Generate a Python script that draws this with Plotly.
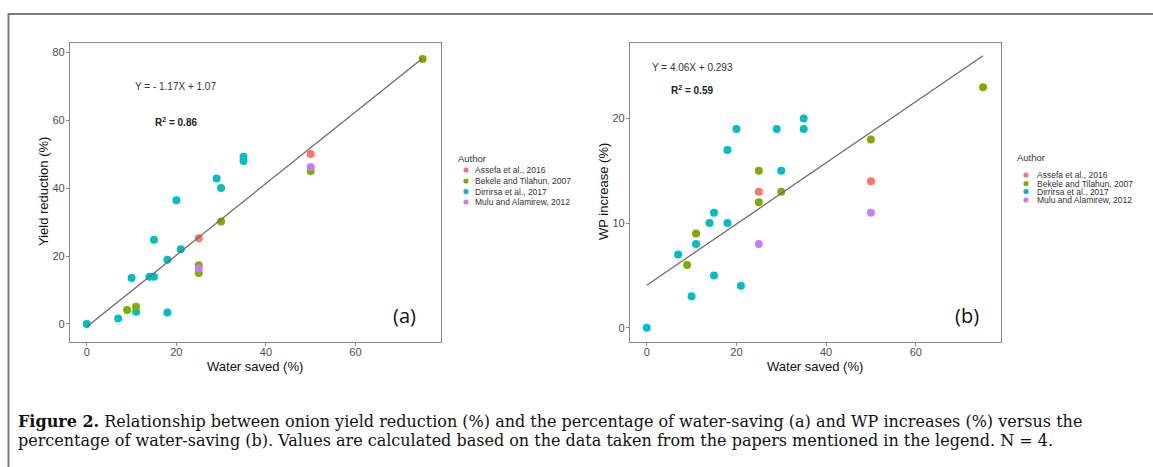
import plotly.graph_objects as go

W, H = 1153, 467

authors = ["Assefa et al., 2016", "Bekele and Tilahun, 2007",
           "Dirrirsa et al., 2017", "Mulu and Alamirew, 2012"]
colors = ["#F8766D", "#7CAE00", "#00BFC4", "#C77CFF"]

# ---- Panel (a): yield reduction vs water saved ----
a_assefa_x = [25, 50]
a_assefa_y = [25.2, 50]
a_bekele_x = [9, 11, 25, 25, 30, 50, 75]
a_bekele_y = [4.1, 5.1, 17.3, 15, 30.2, 45, 78]
a_dirrirsa_x = [0, 7, 10, 11, 14, 15, 15, 18, 18, 20, 21, 29, 30, 35, 35]
a_dirrirsa_y = [0, 1.6, 13.5, 3.6, 13.9, 13.9, 24.8, 18.9, 3.4, 36.4, 22, 42.8, 40, 49.2, 48]
a_mulu_x = [25, 50]
a_mulu_y = [16.3, 46.2]
fit_a_x = [0, 75]
fit_a_y = [-0.8, 78.2]

# ---- Panel (b): WP increase vs water saved ----
b_assefa_x = [25, 50]
b_assefa_y = [13, 14]
b_bekele_x = [9, 11, 25, 25, 30, 50, 75]
b_bekele_y = [6, 9, 15, 12, 13, 18, 23]
b_dirrirsa_x = [0, 7, 10, 11, 14, 15, 15, 18, 18, 20, 21, 29, 30, 35, 35]
b_dirrirsa_y = [0, 7, 3, 8, 10, 11, 5, 10, 17, 19, 4, 19, 15, 20, 19]
b_mulu_x = [25, 50]
b_mulu_y = [8, 11]
fit_b_x = [0, 75]
fit_b_y = [4.06, 26.0]

x_ticks = [0, 20, 40, 60]
a_y_ticks = [0, 20, 40, 60, 80]
b_y_ticks = [0, 10, 20]

caption_1 = ("<b>Figure 2.</b> Relationship between onion yield reduction (%) and the percentage "
             "of water-saving (a) and WP increases (%) versus the")
caption_2 = ("percentage of water-saving (b). Values are calculated based on the data taken from "
             "the papers mentioned in the legend. N = 4.")

SANS = "Liberation Sans, Arial, sans-serif"
SERIF = "DejaVu Serif, Liberation Serif, serif"


def px(x):
    return x / W


def py(y):
    return 1 - y / H


fig = go.Figure()

panels = [
    ("x", "y", [a_assefa_x, a_bekele_x, a_dirrirsa_x, a_mulu_x],
     [a_assefa_y, a_bekele_y, a_dirrirsa_y, a_mulu_y], fit_a_x, fit_a_y),
    ("x2", "y2", [b_assefa_x, b_bekele_x, b_dirrirsa_x, b_mulu_x],
     [b_assefa_y, b_bekele_y, b_dirrirsa_y, b_mulu_y], fit_b_x, fit_b_y),
]
draw_order = [2, 1, 0, 3]
for xa, ya, xs, ys, fx, fy in panels:
    for i in draw_order:
        fig.add_trace(go.Scatter(
            x=xs[i], y=ys[i], mode="markers", xaxis=xa, yaxis=ya,
            marker=dict(color=colors[i], size=8, line=dict(width=0)),
            name=authors[i], showlegend=False))
    fig.add_trace(go.Scatter(
        x=fx, y=fy, mode="lines", xaxis=xa, yaxis=ya,
        line=dict(color="#666666", width=1.2), showlegend=False))

axis_common = dict(
    showgrid=False, zeroline=False, showline=True, mirror=True,
    linecolor="#8a8a8a", linewidth=1.3, ticks="outside", ticklen=3,
    tickcolor="#8a8a8a", tickwidth=1,
    tickfont=dict(family=SANS, size=11, color="#4d4d4d"),
)
x_axis_common = dict(axis_common, ticklabelstandoff=-3)
y_axis_common = dict(axis_common, ticklabelstandoff=-1)

fig.update_layout(
    width=W, height=H,
    margin=dict(l=0, r=0, t=0, b=0),
    paper_bgcolor="white", plot_bgcolor="white",
    showlegend=False,
    xaxis=dict(domain=[px(70), px(441)], range=[-3.75, 79.1], tickvals=x_ticks,
               anchor="y", **x_axis_common),
    yaxis=dict(domain=[py(342), py(43)], range=[-5.3, 82.7], tickvals=a_y_ticks,
               anchor="x", **y_axis_common),
    xaxis2=dict(domain=[px(630), px(1001)], range=[-3.73, 79.0], tickvals=x_ticks,
                anchor="y2", **x_axis_common),
    yaxis2=dict(domain=[py(342), py(43)], range=[-1.37, 27.22], tickvals=b_y_ticks,
                anchor="x2", **y_axis_common),
)

ann = []


def note(x, y, text, font, xref="paper", yref="paper", xanchor="center", **kw):
    if xref == "paper":
        x = px(x)
    if yref == "paper":
        y = py(y)
    ann.append(dict(x=x, y=y, xref=xref, yref=yref, text=text, showarrow=False,
                    xanchor=xanchor, yanchor="middle", font=font, **kw))


title_font = dict(family=SANS, size=13, color="#111")
# axis titles
note(255, 366, "Water saved (%)", title_font)
note(815, 366, "Water saved (%)", title_font)
note(43, 192, "Yield reduction (%)", title_font, textangle=-90)
note(603, 192, "WP increase (%)", title_font, textangle=-90)
# equations
eq_font = dict(family=SANS, size=10, color="#333")
r2_font = dict(family=SANS, size=10, color="#222")
note(19.7, 70, "Y = - 1.17X + 1.07", eq_font, xref="x", yref="y")
note(20, 59.4, "<b>R<sup>2</sup> = 0.86</b>", r2_font, xref="x", yref="y")
note(10.1, 24.9, "Y = 4.06X + 0.293", eq_font, xref="x2", yref="y2")
note(10.1, 22.7, "<b>R<sup>2</sup> = 0.59</b>", r2_font, xref="x2", yref="y2")
# panel letters
letter_font = dict(family="Open Sans, sans-serif", size=20, color="#111")
note(404, 315, "(a)", letter_font)
note(967, 315, "(b)", letter_font)

shapes = []
# manual legends
legends = [
    (457, 158, 466, 473, [170, 181, 191.5, 202]),
    (1016, 157, 1026, 1035, [175, 183.5, 191.5, 200]),
]
for tx, ty, cx, lx, rows in legends:
    note(tx - 1, ty, "Author", dict(family=SANS, size=9.5, color="#333"), xanchor="left")
    for i, ry in enumerate(rows):
        r = 2.6
        shapes.append(dict(type="circle", xref="paper", yref="paper",
                           x0=px(cx - r), x1=px(cx + r), y0=py(ry + r), y1=py(ry - r),
                           fillcolor=colors[i], line=dict(width=0)))
        note(lx, ry, authors[i], dict(family=SANS, size=8.5, color="#333"), xanchor="left")

# caption
cap_font = dict(family=SERIF, size=16, color="#111")
note(16, 421, caption_1, cap_font, xanchor="left")
note(16, 440, caption_2, cap_font, xanchor="left")

# outer frame (top and left lines)
shapes.append(dict(type="line", xref="paper", yref="paper", x0=px(8), x1=1, y0=py(14), y1=py(14),
                   line=dict(color="#7a7a7a", width=2)))
shapes.append(dict(type="line", xref="paper", yref="paper", x0=px(8.5), x1=px(8.5), y0=py(13), y1=0,
                   line=dict(color="#7a7a7a", width=2)))

fig.update_layout(annotations=ann, shapes=shapes)
fig.write_html("out.html", config={"displayModeBar": False},
               post_script="document.body.style.margin='0';document.body.style.padding='0';")
